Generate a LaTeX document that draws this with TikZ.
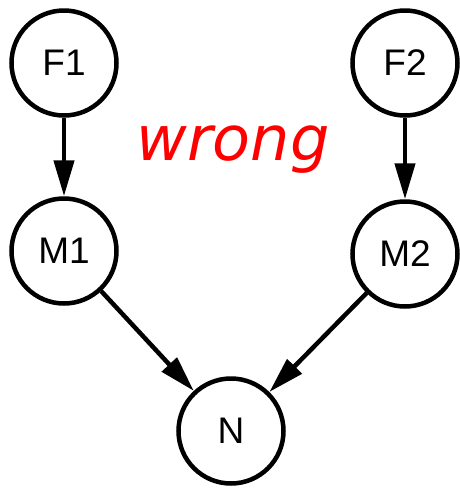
\documentclass[tikz,border=0pt]{standalone}
\usepackage{fontspec}
\setmainfont{Liberation Sans}
\newfontfamily\wrongfont{DejaVu Sans}
\usetikzlibrary{arrows.meta}

\begin{document}
\begin{tikzpicture}[x=1pt,y=-1pt,
		var/.style={draw,circle,line width=4.5pt,minimum size=105pt,inner sep=0pt,font=\fontsize{37}{37}\selectfont},
		link/.style={line width=4.5pt,-{Triangle[length=36pt,width=20pt]}}]
		
		\useasboundingbox (0,0) rectangle (460,488);
		
		\node[var] (F1) at (64,63) {F1};
		\node[var] (F2) at (405,63) {F2};
		\node[var] (M1) at (64,251) {M1};
		\node[var] (M2) at (405,254) {M2};
		\node[var] (N) at (231,431) {N};
		
		\node[text=red,font=\wrongfont\itshape\fontsize{62}{62}\selectfont,anchor=base] (lbl) at (233,160) {wrong};
		
		\draw[link] (F1) -- (M1);
		\draw[link] (F2) -- (M2);
		\draw[link] (M1) -- (N);
		\draw[link] (M2) -- (N);
		
\end{tikzpicture}
\end{document}
